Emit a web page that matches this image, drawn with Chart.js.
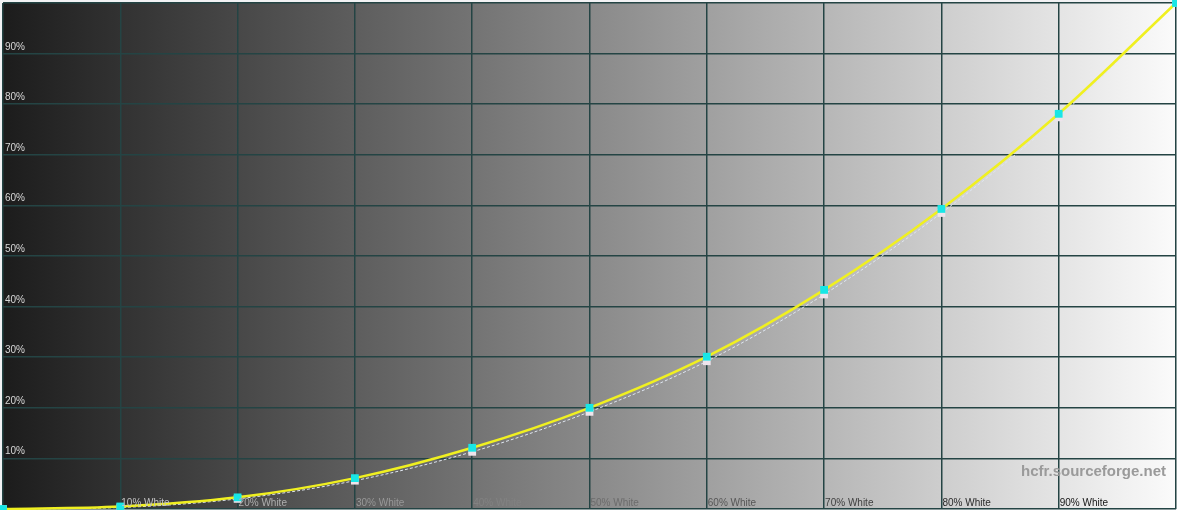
<!DOCTYPE html>
<html>
<head>
<meta charset="utf-8">
<script src="https://cdn.jsdelivr.net/npm/chart.js"></script>
<style>
  html, body { margin: 0; padding: 0; background: #f2f2f4; }
  #wrap { position: relative; width: 1177px; height: 510px; }
</style>
</head>
<body>
<div id="wrap"><canvas id="gammaChart"></canvas></div>
<script>
// grey steps (% white) and luminance (% of 100% white)
const steps = [0, 10, 20, 30, 40, 50, 60, 70, 80, 90, 100];
const measured = [0, 0.5, 2.3, 6.1, 12.1, 20.0, 30.1, 43.3, 59.3, 78.1, 100];
const reference = [0, 0.3, 2.0, 5.6, 11.3, 19.2, 29.2, 42.4, 58.5, 77.4, 100];
const yTickLabels = ["10%", "20%", "30%", "40%", "50%", "60%", "70%", "80%", "90%"];
const xTickLabels = ["10% White", "20% White", "30% White", "40% White", "50% White",
  "60% White", "70% White", "80% White", "90% White"];

function pts(arr) {
  return steps.map((s, i) => ({ x: s, y: arr[i] }));
}

// grey ramp behind the plot, dark to white
const rampBackground = {
  id: "rampBackground",
  beforeDraw(chart) {
    const { ctx, chartArea: a } = chart;
    const g = ctx.createLinearGradient(a.left, 0, a.right, 0);
    g.addColorStop(0, "#1c1c1c");
    g.addColorStop(0.5, "#898989");
    g.addColorStop(1, "#fbfbfb");
    ctx.save();
    ctx.fillStyle = g;
    ctx.fillRect(a.left, a.top, a.right - a.left, a.bottom - a.top);
    ctx.restore();
  },
};

// labels sit inside the plot, in the inverse of the grey behind them
const insideLabels = {
  id: "insideLabels",
  afterDatasetsDraw(chart) {
    const { ctx, chartArea: a, scales } = chart;
    ctx.save();
    ctx.font = "10px 'Liberation Sans', Arial, sans-serif";
    ctx.textBaseline = "alphabetic";
    ctx.fillStyle = "#d8d8d8";
    yTickLabels.forEach((t, i) => {
      const y = scales.y.getPixelForValue((i + 1) * 10);
      ctx.fillText(t, a.left + 2, y - 4);
    });
    xTickLabels.forEach((t, i) => {
      const v = (i + 1) * 10;
      const x = scales.x.getPixelForValue(v);
      const bg = 30 + (250 - 30) * (v + 3) / 100;
      const c = Math.round(255 - bg);
      ctx.fillStyle = `rgb(${c},${c},${c})`;
      ctx.fillText(t, x + 1, a.bottom - 3);
    });
    ctx.font = "bold 15px 'Liberation Sans', Arial, sans-serif";
    ctx.textAlign = "right";
    ctx.fillStyle = "#9a9a9a";
    ctx.fillText("hcfr.sourceforge.net", a.right - 10, scales.y.getPixelForValue(6.6));
    ctx.restore();
  },
};

const config = {
  type: "line",
  data: {
    datasets: [
      {
        label: "Measured",
        data: pts(measured),
        borderColor: "#f0f020",
        borderWidth: 2.5,
        pointStyle: "rect",
        pointRadius: 5.5,
        pointBackgroundColor: "#18e6e6",
        pointBorderColor: "#18e6e6",
        pointBorderWidth: 0,
        cubicInterpolationMode: "monotone",
        clip: false,
        order: 0,
      },
      {
        label: "Reference",
        data: pts(reference),
        borderColor: "#dfe6f0",
        borderWidth: 1,
        borderDash: [3, 2],
        pointStyle: "rect",
        pointRadius: 5.5,
        pointBackgroundColor: "#eee4ec",
        pointBorderColor: "#eee4ec",
        pointBorderWidth: 0,
        cubicInterpolationMode: "monotone",
        clip: false,
        order: 1,
      },
    ],
  },
  options: {
    responsive: true,
    maintainAspectRatio: false,
    animation: false,
    layout: { autoPadding: false, padding: { left: 3, right: 1, top: 3, bottom: 1 } },
    plugins: { legend: { display: false }, tooltip: { enabled: false } },
    scales: {
      x: {
        type: "linear",
        min: 0,
        max: 100,
        ticks: { display: false, stepSize: 10, padding: 0 },
        grid: { color: "#244444", lineWidth: 1.5, drawTicks: false },
        border: { display: false },
      },
      y: {
        type: "linear",
        min: 0,
        max: 100,
        ticks: { display: false, stepSize: 10, padding: 0 },
        grid: { color: "#244444", lineWidth: 1.5, drawTicks: false },
        border: { display: false },
      },
    },
  },
  plugins: [rampBackground, insideLabels],
};

const gammaChart = new Chart(document.getElementById("gammaChart").getContext("2d"), config);
</script>
</body>
</html>
